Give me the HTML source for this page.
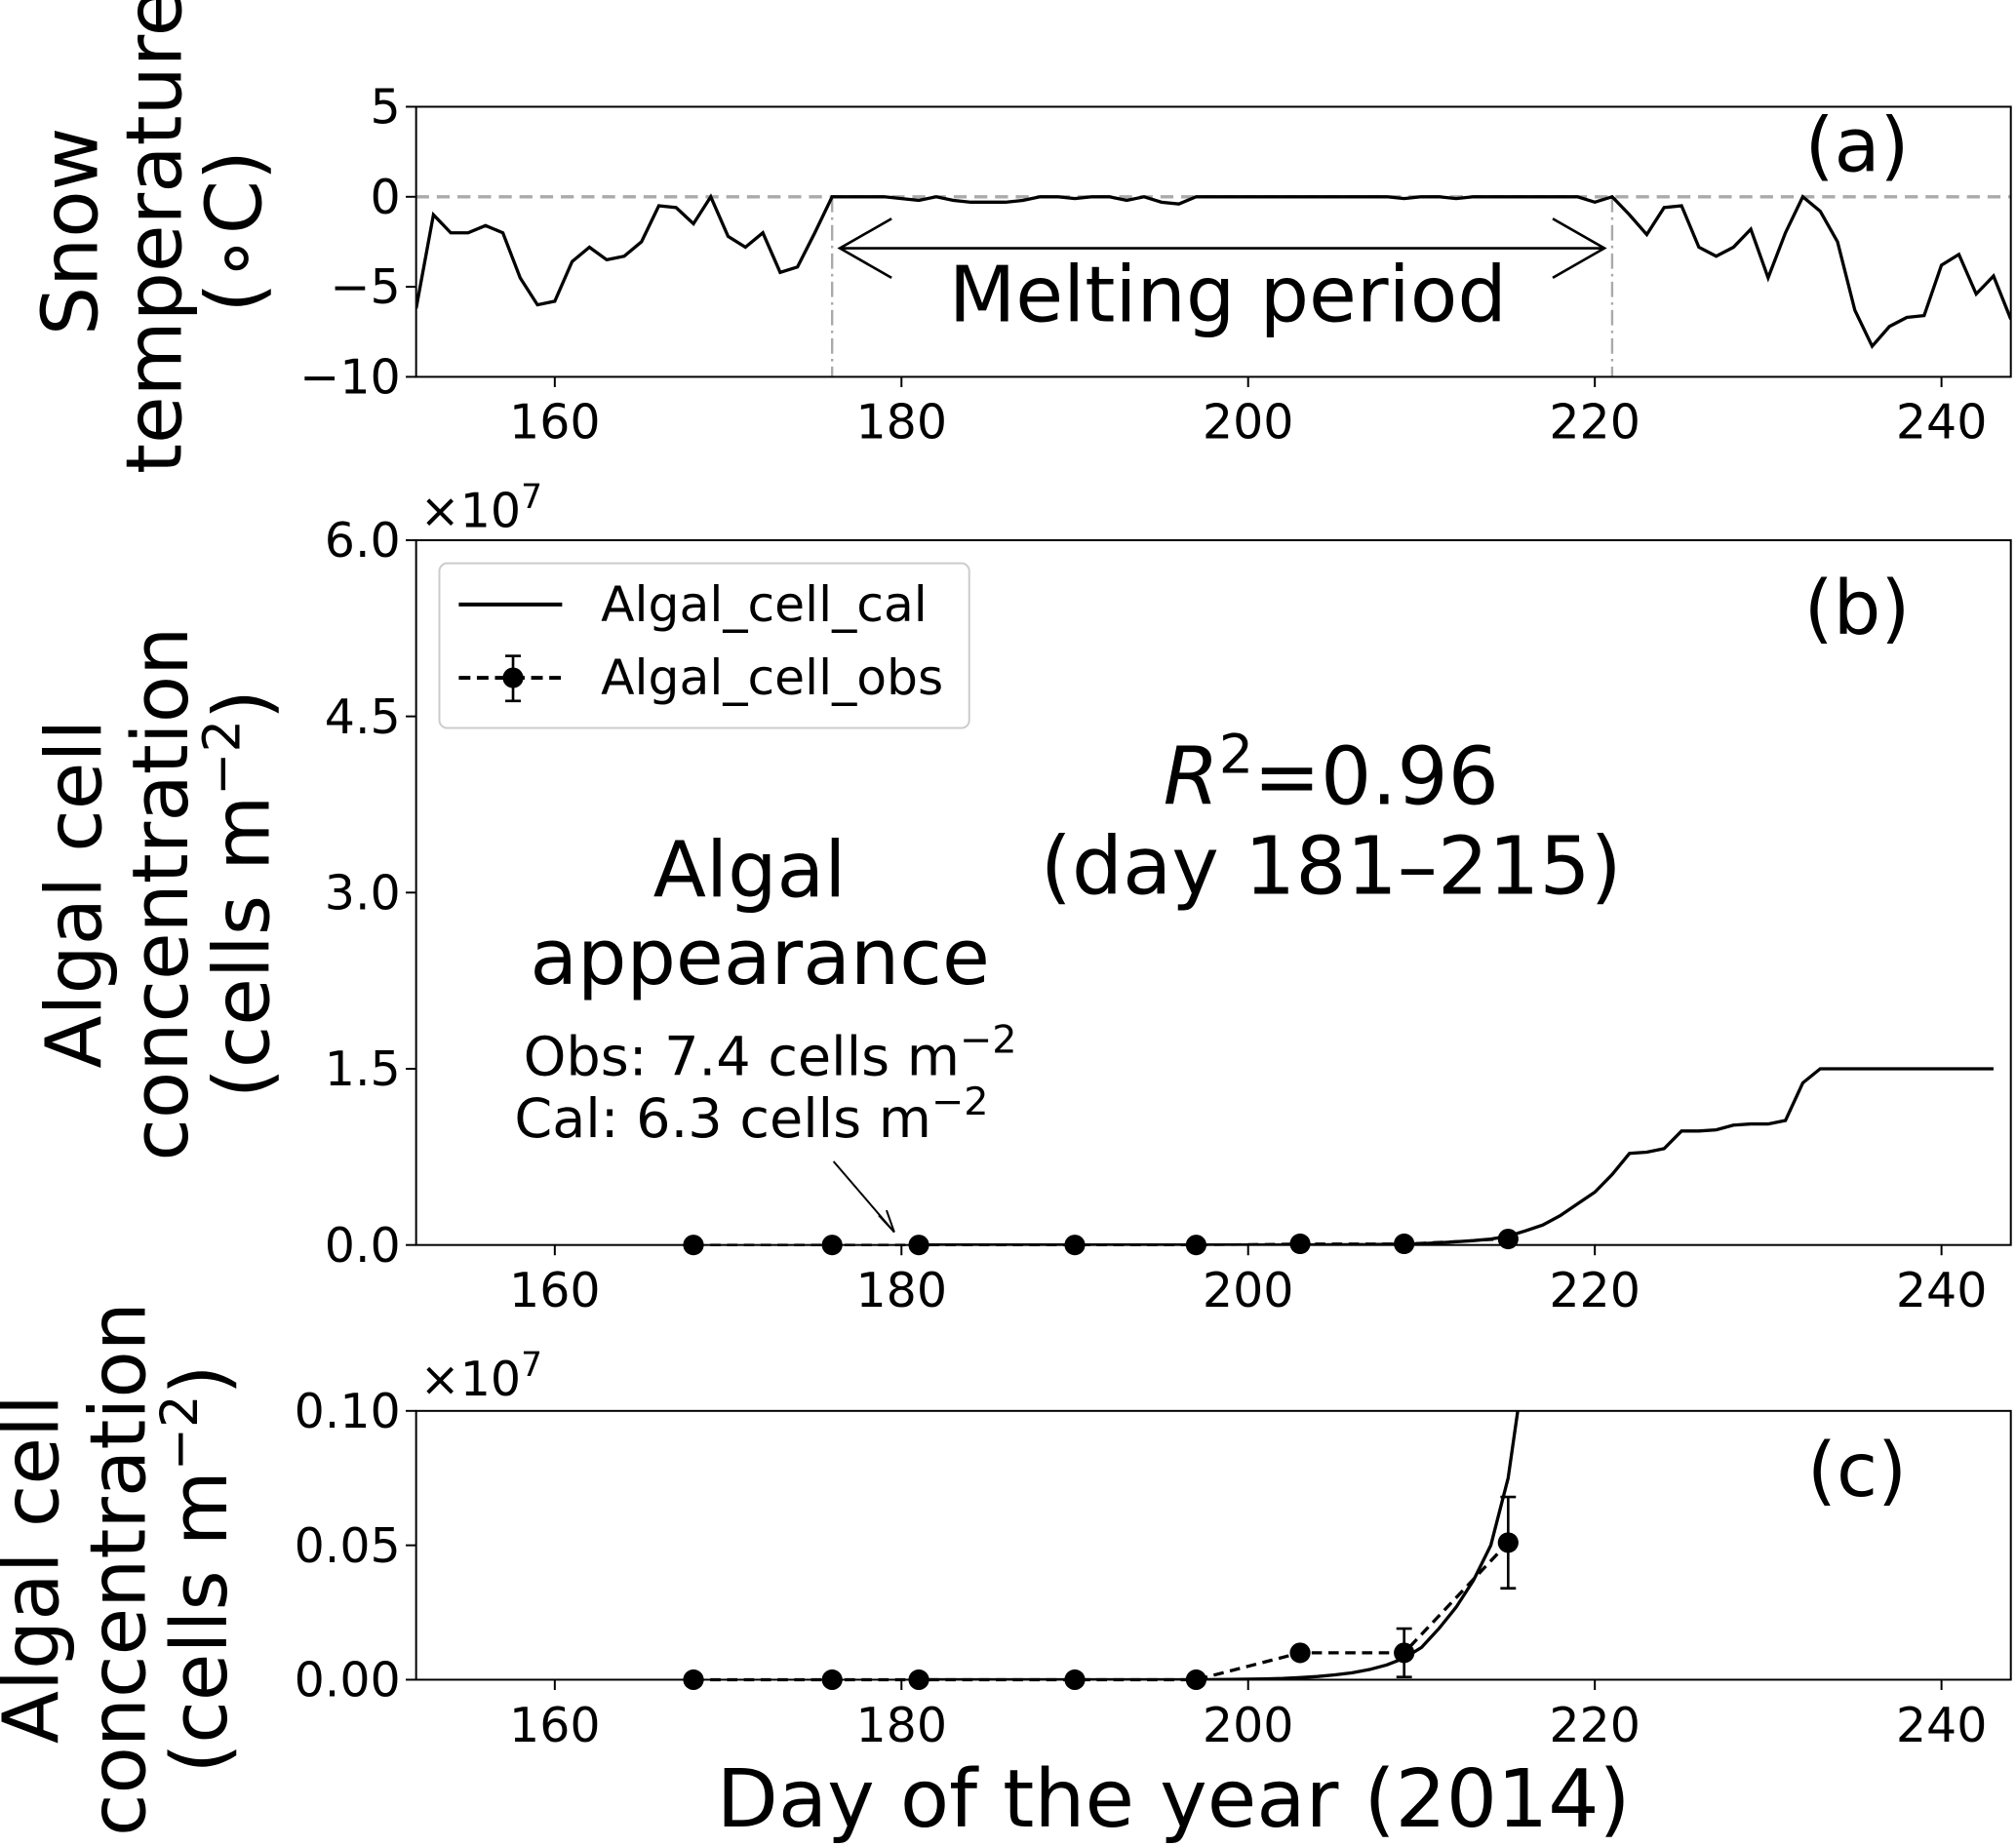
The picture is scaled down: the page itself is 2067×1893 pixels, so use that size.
<!DOCTYPE html>
<html><head><meta charset="utf-8"><style>
html,body{margin:0;padding:0;background:#fff}
svg{display:block}
text{font-family:"DejaVu Sans","Liberation Sans",sans-serif;fill:#000}
</style></head><body>
<svg id="fig" width="2067" height="1893" viewBox="0 0 1560 1435.3" preserveAspectRatio="none" xmlns="http://www.w3.org/2000/svg">
<defs>
<clipPath id="clipA"><rect x="322" y="83" width="1234" height="210"/></clipPath>
<clipPath id="clipB"><rect x="322" y="420" width="1234" height="548"/></clipPath>
<clipPath id="clipC"><rect x="322" y="1097" width="1234" height="209"/></clipPath>
</defs>
<g id="gA"></g>
<g id="gB"></g>
<g id="gC"></g>

<g font-size="60">
<text transform="translate(75,180) rotate(-90)" text-anchor="middle">Snow</text>
<text transform="translate(140,180) rotate(-90)" text-anchor="middle">temperature</text>
<text transform="translate(202,180) rotate(-90)" text-anchor="middle">(∘C)</text>
</g>
<g font-size="60">
<text transform="translate(78,695) rotate(-90)" text-anchor="middle">Algal cell</text>
<text transform="translate(145,695) rotate(-90)" text-anchor="middle">concentration</text>
<text transform="translate(208,695) rotate(-90)" text-anchor="middle">(cells m<tspan baseline-shift="super" font-size="40">−2</tspan>)</text>
</g>
<g font-size="60">
<text transform="translate(45,1220) rotate(-90)" text-anchor="middle">Algal cell</text>
<text transform="translate(112,1220) rotate(-90)" text-anchor="middle">concentration</text>
<text transform="translate(175,1220) rotate(-90)" text-anchor="middle">(cells m<tspan baseline-shift="super" font-size="40">−2</tspan>)</text>
</g>
<text x="908" y="1420" font-size="62" text-anchor="middle">Day of the year (2014)</text>
<text x="1437" y="133" font-size="58" text-anchor="middle">(a)</text>
<text x="1437" y="493" font-size="58" text-anchor="middle">(b)</text>
<text x="1437" y="1163" font-size="58" text-anchor="middle">(c)</text>
<text x="950" y="250" font-size="60" text-anchor="middle">Melting period</text>
<text x="1030" y="625" font-size="62" text-anchor="middle"><tspan font-style="italic">R</tspan><tspan baseline-shift="super" font-size="42">2</tspan>=0.96</text>
<text x="1030" y="695" font-size="62" text-anchor="middle">(day 181–215)</text>
<text x="580" y="697" font-size="60" text-anchor="middle">Algal</text>
<text x="588" y="765" font-size="60" text-anchor="middle">appearance</text>
<text x="405" y="836" font-size="42">Obs: 7.4 cells m<tspan baseline-shift="super" font-size="30">−2</tspan></text>
<text x="398" y="884" font-size="42">Cal: 6.3 cells m<tspan baseline-shift="super" font-size="30">−2</tspan></text>
<g stroke="#000" stroke-width="1.5" fill="none">
<line x1="645" y1="903" x2="692" y2="958"/><polyline points="680,945 692,958 686,941"/>
</g>
<text x="325" y="410" font-size="37">×10<tspan baseline-shift="super" font-size="26">7</tspan></text>
<text x="325" y="1085" font-size="37">×10<tspan baseline-shift="super" font-size="26">7</tspan></text>

<g>
<rect x="340" y="438" width="410" height="128" rx="6" fill="#fff" stroke="#ccc" stroke-width="1.5"/>
<line x1="355" y1="470" x2="435" y2="470" stroke="#000" stroke-width="3"/>
<text x="465" y="483" font-size="38">Algal_cell_cal</text>
<line x1="355" y1="527" x2="435" y2="527" stroke="#000" stroke-width="3" stroke-dasharray="9,5"/>
<line x1="397" y1="510" x2="397" y2="545" stroke="#000" stroke-width="2"/>
<line x1="391" y1="510" x2="403" y2="510" stroke="#000" stroke-width="2"/>
<line x1="391" y1="545" x2="403" y2="545" stroke="#000" stroke-width="2"/>
<circle cx="397" cy="527" r="8" fill="#000"/>
<text x="465" y="540" font-size="38">Algal_cell_obs</text>
</g>
</svg>
<script>
const tempDays = [152,153,154,155,156,157,158,159,160,161,162,163,164,165,166,167,168,169,170,171,172,173,174,175,176,177,178,179,180,181,182,183,184,185,186,187,188,189,190,191,192,193,194,195,196,197,198,199,200,201,202,203,204,205,206,207,208,209,210,211,212,213,214,215,216,217,218,219,220,221,222,223,224,225,226,227,228,229,230,231,232,233,234,235,236,237,238,239,240,241,242,243,244];
const tempVals = [-6.2,-1,-2,-2,-1.6,-2,-4.5,-6,-5.8,-3.6,-2.8,-3.5,-3.3,-2.5,-0.5,-0.6,-1.5,0,-2.2,-2.8,-2,-4.2,-3.9,-2,0,0,0,0,-0.1,-0.2,0,-0.2,-0.3,-0.3,-0.3,-0.2,0,0,-0.1,0,0,-0.2,0,-0.3,-0.4,0,0,0,0,0,0,0,0,0,0,0,0,-0.1,0,0,-0.1,0,0,0,0,0,0,0,-0.3,0,-1,-2.1,-0.6,-0.5,-2.8,-3.3,-2.8,-1.8,-4.5,-2,0,-0.8,-2.5,-6.3,-8.3,-7.2,-6.7,-6.6,-3.8,-3.2,-5.4,-4.4,-6.8];
const calDays = [181,185,190,195,197,199,200,201,202,203,204,205,206,207,208,209,210,211,212,213,214,215,216,217,218,219,220,221,222,223,224,225,226,227,228,229,230,231,232,233,243];
const calVals = [0,0,0,0,0,0.0001,0.0002,0.0003,0.0005,0.0008,0.0012,0.0018,0.0026,0.0038,0.0055,0.008,0.012,0.019,0.027,0.037,0.05,0.075,0.12,0.17,0.25,0.35,0.45,0.6,0.78,0.79,0.82,0.97,0.97,0.98,1.02,1.03,1.03,1.06,1.38,1.5,1.5];
const obsDays = [168,176,181,190,197,203,209,215];
const obsVals = [0,0,0,0,0,0.01,0.01,0.051];
const obsErr = [0,0,0,0,0,0,0.009,0.017];
const xTicks = [160,180,200,220,240];
const aTicks = [5,0,-5,-10];
const bTicks = [0,1.5,3,4.5,6];
const bTickLabels = ["0.0","1.5","3.0","4.5","6.0"];
const cTicks = [0,0.05,0.1];
const cTickLabels = ["0.00","0.05","0.10"];
const meltStart = 176, meltEnd = 221;

const NS = "http://www.w3.org/2000/svg";
const L = 322, R = 1556, X0 = 152, X1 = 244;
const xs = d => L + (d - X0) / (X1 - X0) * (R - L);
function mk(parent, tag, attrs) {
  const e = document.createElementNS(NS, tag);
  for (const k in attrs) e.setAttribute(k, attrs[k]);
  parent.appendChild(e);
  return e;
}
function axes(g, top, bot, ticks, labels, ys, name) {
  for (let i = 0; i < xTicks.length; i++) {
    const x = xs(xTicks[i]);
    const t = mk(g, "line", {x1:x, x2:x, y1:bot, y2:bot+8, stroke:"#000", "stroke-width":1.5});
    
    
    const lb = mk(g, "text", {x:x, y:bot+48, "font-size":37, "text-anchor":"middle"});
    lb.textContent = xTicks[i];
    
    
  }
  for (let i = 0; i < ticks.length; i++) {
    const y = ys(ticks[i]);
    const t = mk(g, "line", {x1:L-8, x2:L, y1:y, y2:y, stroke:"#000", "stroke-width":1.5});
    
    
    const lb = mk(g, "text", {x:L-12, y:y+13, "font-size":37, "text-anchor":"end"});
    lb.textContent = labels[i];
    
    
  }
  const fr = mk(g, "rect", {x:L, y:top, width:R-L, height:bot-top, fill:"none", stroke:"#000", "stroke-width":1.5});
  
  
}
function pts(days, vals, ys) { return days.map((d,i) => xs(d).toFixed(1) + "," + ys(vals[i]).toFixed(1)).join(" "); }

const gA = document.getElementById("gA");
const yA = v => 83 + (5 - v) / 15 * 210;
const zl = mk(gA, "line", {x1:L, x2:R, y1:yA(0), y2:yA(0), stroke:"#aaa", "stroke-width":2.5, "stroke-dasharray":"10,6"});


[meltStart, meltEnd].forEach(d => {
  const v = mk(gA, "line", {x1:xs(d), x2:xs(d), y1:yA(0), y2:293, stroke:"#aaa", "stroke-width":1.8, "stroke-dasharray":"12,4,2,4"});
  
  
});
const tl = mk(gA, "polyline", {points:pts(tempDays, tempVals, yA), fill:"none", stroke:"#000", "stroke-width":2.5, "clip-path":"url(#clipA)"});


const ar = mk(gA, "g", {stroke:"#000", "stroke-width":2, fill:"none"});


const a1 = xs(meltStart)+6, a2 = xs(meltEnd)-6;
mk(ar, "line", {x1:a1, x2:a2, y1:193, y2:193});
mk(ar, "polyline", {points:`${a1+40},170 ${a1},193 ${a1+40},216`});
mk(ar, "polyline", {points:`${a2-40},170 ${a2},193 ${a2-40},216`});
axes(gA, 83, 293, aTicks, aTicks.map(v => v < 0 ? "−" + (-v) : String(v)), yA, "panel-a");

const gB = document.getElementById("gB");
const yB = v => 968 - v / 6 * 548;
const ob = mk(gB, "polyline", {points:pts(obsDays, obsVals, yB), fill:"none", stroke:"#000", "stroke-width":2, "stroke-dasharray":"8,5"});


const cb = mk(gB, "polyline", {points:pts(calDays, calVals, yB), fill:"none", stroke:"#000", "stroke-width":2.5, "clip-path":"url(#clipB)"});


obsDays.forEach((d,i) => {
  const c = mk(gB, "circle", {cx:xs(d), cy:yB(obsVals[i]), r:8, fill:"#000"});
  
  
});
axes(gB, 420, 968, bTicks, bTickLabels, yB, "panel-b");

const gC = document.getElementById("gC");
const yC = v => 1306 - v / 0.1 * 209;
const oc = mk(gC, "polyline", {points:pts(obsDays, obsVals, yC), fill:"none", stroke:"#000", "stroke-width":2.5, "stroke-dasharray":"8,5"});


const cc = mk(gC, "polyline", {points:pts(calDays, calVals, yC), fill:"none", stroke:"#000", "stroke-width":2.5, "clip-path":"url(#clipC)"});


obsDays.forEach((d,i) => {
  const x = xs(d), y = yC(obsVals[i]);
  if (obsErr[i] > 0) {
    const eb = mk(gC, "g", {stroke:"#000", "stroke-width":2});
    
    
    const y1 = yC(obsVals[i] + obsErr[i]), y2 = yC(obsVals[i] - obsErr[i]);
    mk(eb, "line", {x1:x, x2:x, y1:y1, y2:y2});
    mk(eb, "line", {x1:x-6, x2:x+6, y1:y1, y2:y1});
    mk(eb, "line", {x1:x-6, x2:x+6, y1:y2, y2:y2});
  }
  const c = mk(gC, "circle", {cx:x, cy:y, r:8, fill:"#000"});
  
  
});
axes(gC, 1097, 1306, cTicks, cTickLabels, yC, "panel-c");
</script>
</body></html>
